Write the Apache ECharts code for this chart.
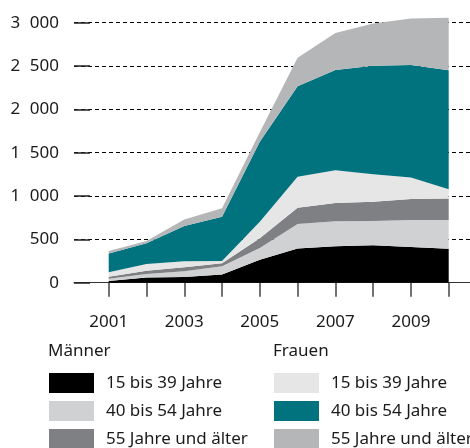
<!DOCTYPE html>
<html>
<head>
<meta charset="utf-8">
<script src="https://cdn.jsdelivr.net/npm/echarts@6/dist/echarts.min.js"></script>
<style>html,body{margin:0;padding:0;background:#fff}#c{width:470px;height:448px}</style>
</head>
<body>
<div id="c"></div>
<script>
const years = ['2001', '2002', '2003', '2004', '2005', '2006', '2007', '2008', '2009', '2010'];
const yTicks = [0, 500, 1000, 1500, 2000, 2500, 3000];

const maenner15_39 = [20, 60, 65, 95, 265, 396, 420, 433, 413, 392];
const maenner40_54 = [25, 40, 67, 95, 135, 281, 290, 280, 310, 331];
const maenner55 = [25, 38, 45, 35, 112, 188, 211, 220, 244, 248];
const frauen15_39 = [52, 77, 71, 25, 192, 358, 377, 317, 246, 106];
const frauen40_54 = [216, 241, 406, 510, 921, 1045, 1156, 1254, 1300, 1375];
const frauen55 = [27, 26, 74, 98, 110, 328, 426, 488, 535, 604];

const FONT = 'Noto Sans';
const TXT = '#1a1a1a';
const seriesDefs = [
  {name: 'M|15 bis 39 Jahre', data: maenner15_39, color: '#000000'},
  {name: 'M|40 bis 54 Jahre', data: maenner40_54, color: '#d0d1d3'},
  {name: 'M|55 Jahre und älter', data: maenner55, color: '#7f8083'},
  {name: 'F|15 bis 39 Jahre', data: frauen15_39, color: '#e6e6e6'},
  {name: 'F|40 bis 54 Jahre', data: frauen40_54, color: '#00737f'},
  {name: 'F|55 Jahre und älter', data: frauen55, color: '#b5b6b8'}
];

const chart = echarts.init(document.getElementById('c'), null, {renderer: 'canvas'});
const fmt = v => String(v).replace(/\B(?=(\d{3})+(?!\d))/g, '\u2007');

const legendCommon = {
  orient: 'vertical', itemWidth: 45, itemHeight: 20, itemGap: 8, padding: 0,
  height: 100, width: 190,
  icon: 'rect', selectedMode: false,
  formatter: n => n.split('|')[1],
  textStyle: {fontFamily: FONT, fontSize: 17, color: TXT, padding: [0, 0, 0, 7]}
};

const gridBox = {top: 22.7, bottom: 165.3};

chart.setOption({
  animation: false,
  title: [
    {text: 'Männer', left: 48, top: 343, padding: 0, textStyle: {fontFamily: FONT, fontSize: 17, fontWeight: 'normal', color: TXT}},
    {text: 'Frauen', left: 273, top: 343, padding: 0, textStyle: {fontFamily: FONT, fontSize: 17, fontWeight: 'normal', color: TXT}}
  ],
  legend: [
    Object.assign({left: 49, top: 373, data: seriesDefs.slice(0, 3).map(s => s.name)}, legendCommon),
    Object.assign({left: 274, top: 373, data: seriesDefs.slice(3).map(s => s.name)}, legendCommon)
  ],
  grid: [
    Object.assign({left: 74, right: 0}, gridBox),
    Object.assign({left: 108.7, right: 21.3}, gridBox)
  ],
  xAxis: [
    {
      gridIndex: 0, type: 'value', min: 0, max: 1,
      axisLine: {show: true, onZero: false, lineStyle: {color: '#333', width: 1}},
      axisTick: {show: false}, axisLabel: {show: false}, splitLine: {show: false}
    },
    {
      gridIndex: 1, type: 'category', data: years, boundaryGap: false,
      axisLine: {show: false},
      axisTick: {show: true, interval: 0, length: 14, lineStyle: {color: '#444', width: 1.5}},
      axisLabel: {interval: 1, margin: 31, fontFamily: FONT, fontSize: 17, color: TXT},
      splitLine: {show: false}
    }
  ],
  yAxis: [
    {
      gridIndex: 0, type: 'value', min: 0, max: 3000, interval: 500,
      axisLine: {show: false},
      axisTick: {show: true, inside: true, length: 16, lineStyle: {color: '#222', width: 1.5}},
      axisLabel: {margin: 15, fontFamily: FONT, fontSize: 17, color: TXT, formatter: v => fmt(v)},
      splitLine: {show: true, lineStyle: {color: '#000', width: 1, type: [4, 3]}}
    },
    {
      gridIndex: 1, type: 'value', min: 0, max: 3000, interval: 500,
      axisLine: {show: false}, axisTick: {show: false}, axisLabel: {show: false}, splitLine: {show: false}
    }
  ],
  series: seriesDefs.map(s => ({
    name: s.name, type: 'line', stack: 'total', clip: false,
    xAxisIndex: 1, yAxisIndex: 1,
    data: s.data,
    symbol: 'none', showSymbol: false, smooth: false,
    color: s.color,
    itemStyle: {color: s.color},
    lineStyle: {width: 0, color: s.color},
    areaStyle: {color: s.color, opacity: 1},
    emphasis: {disabled: true}
  }))
});
</script>
</body>
</html>
